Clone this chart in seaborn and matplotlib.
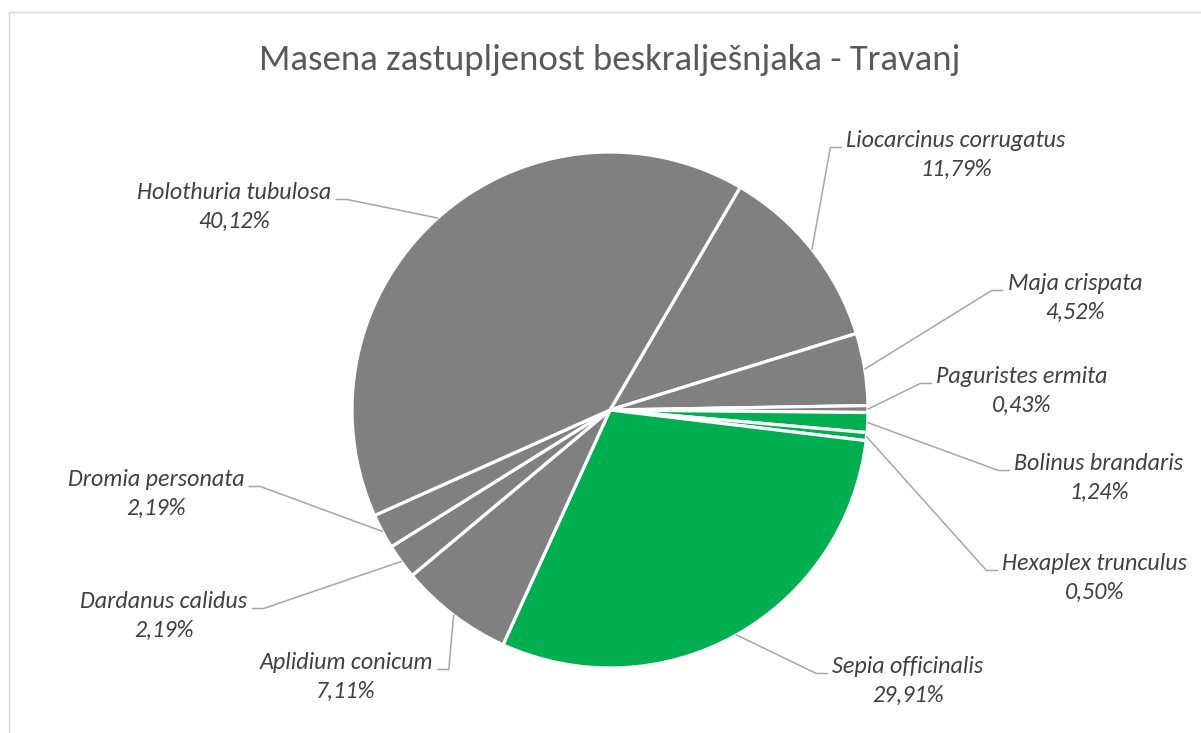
import matplotlib
matplotlib.use("Agg")
import matplotlib.pyplot as plt
import seaborn as sns
import numpy as np
from matplotlib import font_manager
from matplotlib.font_manager import FontProperties
from matplotlib.lines import Line2D

# ---------------- data ----------------
title = "Masena zastupljenost beskralješnjaka - Travanj"
species = ["Liocarcinus corrugatus", "Maja crispata", "Paguristes ermita",
           "Bolinus brandaris", "Hexaplex trunculus", "Sepia officinalis",
           "Aplidium conicum", "Dardanus calidus", "Dromia personata",
           "Holothuria tubulosa"]
shares = [11.79, 4.52, 0.43, 1.24, 0.50, 29.91, 7.11, 2.19, 2.19, 40.12]
pct_labels = ["11,79%", "4,52%", "0,43%", "1,24%", "0,50%", "29,91%",
              "7,11%", "2,19%", "2,19%", "40,12%"]
groups = ["other", "other", "other", "mollusc", "mollusc", "mollusc",
          "other", "other", "other", "other"]

# layout: label block centres in pixels (x from left, y from top)
label_pos = [(956, 155), (1075, 298), (1022, 391), (1099, 478), (1095, 578),
             (908, 681), (346, 677), (164, 616), (156, 494), (234, 207)]

group_colors = {"other": "#808080", "mollusc": "#00B050"}

# ---------------- figure ----------------
W, H = 1201, 733
sns.set_theme(style="white")


def pick_font(cands):
    for c in cands:
        try:
            font_manager.findfont(FontProperties(family=c), fallback_to_default=False)
            return c
        except Exception:
            continue
    return "DejaVu Sans"


fam = pick_font(["Carlito", "Calibri", "Lato", "Open Sans"])
plt.rcParams["font.family"] = [fam, "DejaVu Sans"]

fig = plt.figure(figsize=(W / 100, H / 100), dpi=100)
fig.patch.set_facecolor("white")
renderer = fig.canvas.get_renderer()


def fit_size(text, target_px, style="normal"):
    t = fig.text(0, 0, text, fontsize=10, style=style)
    w = t.get_window_extent(renderer).width
    t.remove()
    return 10 * target_px / w


# frame (chart area border)
fig.add_artist(Line2D([8.5 / W, 8.5 / W], [0, 1 - 11.5 / H], transform=fig.transFigure,
                      color="#D9D9D9", lw=1.0))
fig.add_artist(Line2D([8.5 / W, 1], [1 - 11.5 / H, 1 - 11.5 / H], transform=fig.transFigure,
                      color="#D9D9D9", lw=1.0))

# pie
cx, cy, R = 610, 410, 258
ax = fig.add_axes([(cx - R) / W, (H - cy - R) / H, 2 * R / W, 2 * R / H])
colors = [group_colors[g] for g in groups]
wedges, _ = ax.pie(shares, colors=colors, startangle=59.7, counterclock=False,
                   wedgeprops=dict(edgecolor="white", linewidth=2.3))
ax.set_xlim(-1, 1)
ax.set_ylim(-1, 1)
ax.set_aspect("equal")
ax.axis("off")

# title
ts = fit_size(title, 704)
fig.text(610 / W, 1 - 60 / H, title, ha="center", va="center", fontsize=ts, color="#595959")

# labels
ls = fit_size("Liocarcinus corrugatus", 218, style="italic")
txt_color = "#404040"
line_color = "#A6A6A6"
fig.canvas.draw()
for i, (name, pct) in enumerate(zip(species, pct_labels)):
    lx, ly = label_pos[i]
    t1 = fig.text(lx / W, 1 - (ly - 14.5) / H, name, ha="center", va="center",
                  fontsize=ls, style="italic", color=txt_color)
    fig.text(lx / W, 1 - (ly + 14.5) / H, pct, ha="center", va="center",
             fontsize=ls, style="italic", color=txt_color)
    bb = t1.get_window_extent(renderer)
    w = wedges[i]
    th = np.deg2rad((w.theta1 + w.theta2) / 2)
    px, py = ax.transData.transform((np.cos(th), np.sin(th)))
    yline = H - (ly - 14.5) - 7
    if lx > cx:
        x_end = bb.x0 - 5
        x_elb = x_end - 11
    else:
        x_end = bb.x1 + 5
        x_elb = x_end + 11
    xs = [px, x_elb, x_end]
    ys = [py, yline, yline]
    fig.add_artist(Line2D(xs, ys, transform=None, color=line_color, lw=1.1))

fig.savefig("out.png", dpi=100, facecolor="white")
